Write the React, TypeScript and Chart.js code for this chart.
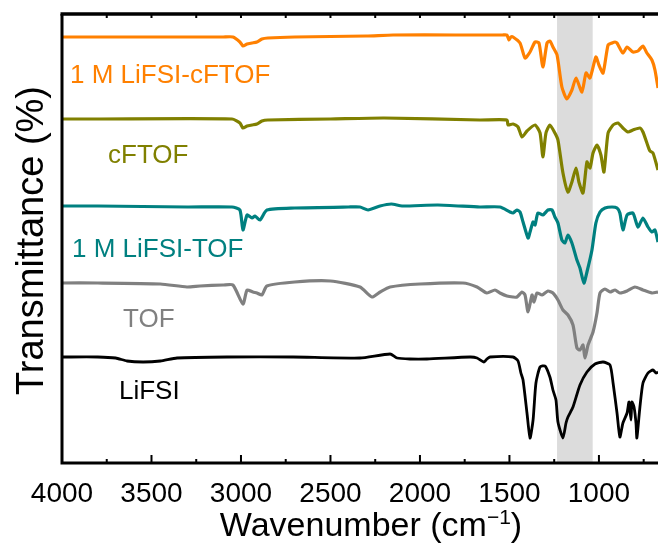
import { useEffect, useRef } from "react";
import { Chart, registerables } from "chart.js";

Chart.register(...registerables);

const FONT = "'Liberation Sans', Arial, Helvetica, sans-serif";

// ---- data (wavenumber in cm^-1, transmittance in arbitrary offset units) ----
const xMajorTicks = [4000, 3500, 3000, 2500, 2000, 1500, 1000];
const xAllTicks = [4000, 3750, 3500, 3250, 3000, 2750, 2500, 2250, 2000, 1750, 1500, 1250, 1000, 750];
const xRange = [670, 4000];
const yRange = [0, 449];
const bandRange = [1035, 1234];

const seriesNames = ["1 M LiFSI-cFTOF", "cFTOF", "1 M LiFSI-TOF", "TOF", "LiFSI"];
const seriesColors = ["#ff8000", "#808000", "#008080", "#808080", "#000000"];

const liCftofWn = [4000, 3800, 3100, 3045, 3006, 2989, 2966, 2938, 2911, 2883, 2850, 2700, 2300, 2150, 1800, 1665, 1540, 1514, 1503, 1492, 1480, 1441, 1413, 1385, 1357, 1335, 1313, 1290, 1274, 1257, 1234, 1207, 1179, 1151, 1128, 1095, 1072, 1050, 1017, 1000, 977, 949, 927, 910, 899, 866, 843, 810, 782, 754, 732, 704, 687, 670];
const liCftofT = [426, 426, 426, 426, 421, 417, 419, 420, 421, 424, 425, 426, 427, 428, 428, 428, 428, 428, 423, 426, 426, 420, 405, 411, 421, 420, 396, 420, 422, 416, 408, 376, 364, 373, 385, 371, 390, 385, 406, 398, 390, 418, 420, 421, 420, 410, 416, 411, 412, 417, 410, 403, 393, 375];

const cftofWn = [4000, 3800, 3050, 3006, 2989, 2966, 2938, 2911, 2883, 2850, 2500, 2200, 1665, 1514, 1508, 1480, 1452, 1430, 1402, 1357, 1329, 1313, 1296, 1274, 1246, 1229, 1201, 1173, 1151, 1128, 1112, 1089, 1067, 1050, 1033, 1011, 989, 972, 949, 921, 894, 866, 838, 810, 771, 754, 732, 715, 698, 670];
const cftofT = [344, 344, 344, 340, 335, 337, 338, 339, 342, 343, 344, 345, 343, 343, 338, 339, 336, 326, 332, 338, 330, 306, 330, 338, 330, 323, 290, 271, 281, 295, 281, 270, 301, 295, 310, 318, 308, 291, 330, 338, 340, 335, 331, 333, 335, 331, 320, 312, 310, 293];

const liTofWn = [4000, 3800, 3300, 3050, 3006, 2989, 2966, 2938, 2922, 2894, 2855, 2700, 2400, 2335, 2290, 2223, 2160, 2100, 1900, 1665, 1553, 1497, 1480, 1458, 1441, 1424, 1396, 1385, 1368, 1357, 1341, 1313, 1285, 1262, 1246, 1229, 1207, 1190, 1173, 1151, 1123, 1106, 1084, 1067, 1039, 1017, 994, 966, 927, 899, 883, 866, 843, 810, 782, 754, 726, 704, 687, 670];
const liTofT = [257, 257, 256, 256, 253, 233, 248, 245, 247, 243, 253, 255, 256, 256, 253, 257, 259, 257, 258, 256, 256, 251, 250, 253, 251, 241, 225, 231, 241, 238, 250, 248, 253, 253, 246, 240, 223, 220, 228, 220, 203, 195, 180, 191, 213, 240, 251, 255, 256, 255, 250, 233, 248, 250, 236, 245, 236, 231, 233, 221];

const tofWn = [4000, 3800, 3450, 3302, 3229, 3100, 3045, 2989, 2966, 2933, 2911, 2883, 2855, 2700, 2500, 2335, 2268, 2223, 2167, 2000, 1760, 1681, 1626, 1581, 1553, 1514, 1480, 1458, 1430, 1413, 1396, 1374, 1363, 1346, 1318, 1285, 1257, 1229, 1201, 1173, 1145, 1123, 1106, 1089, 1078, 1061, 1033, 1011, 994, 966, 938, 910, 883, 843, 799, 754, 704, 670];
const tofT = [180, 180, 179, 176, 177, 178, 178, 159, 173, 171, 170, 168, 177, 181, 182, 176, 166, 171, 176, 179, 180, 176, 170, 173, 170, 167, 166, 166, 171, 168, 151, 168, 161, 170, 168, 172, 170, 163, 153, 148, 138, 115, 113, 118, 105, 118, 131, 150, 170, 174, 171, 173, 170, 172, 176, 173, 170, 171];

const lifsiWn = [4000, 3800, 3700, 3637, 3547, 3450, 3357, 3078, 2709, 2335, 2167, 2128, 2056, 1961, 1720, 1681, 1642, 1626, 1609, 1480, 1452, 1436, 1424, 1402, 1385, 1368, 1352, 1329, 1301, 1274, 1257, 1240, 1229, 1201, 1184, 1173, 1145, 1106, 1067, 1022, 977, 938, 921, 899, 883, 866, 843, 832, 821, 816, 804, 793, 788, 771, 754, 726, 698, 681, 670];
const lifsiT = [106, 106, 105, 102, 101, 102, 105, 106, 106, 105, 109, 105, 104, 104, 106, 105, 101, 104, 106, 106, 102, 90, 83, 50, 25, 43, 80, 96, 97, 86, 73, 63, 41, 25, 40, 46, 56, 78, 91, 99, 101, 98, 80, 50, 26, 40, 50, 61, 43, 61, 56, 40, 25, 56, 80, 90, 93, 90, 91];

const seriesWn = [liCftofWn, cftofWn, liTofWn, tofWn, lifsiWn];
const seriesT = [liCftofT, cftofT, liTofT, tofT, lifsiT];

// label anchors: [wavenumber of left edge, transmittance of text baseline]
const labelAnchors = [
  [3955, 380],
  [3743, 300],
  [3944, 206],
  [3659, 136],
  [3682, 64],
];

const decorPlugin = {
  id: "decor",
  beforeDatasetsDraw(chart: any) {
    const { ctx, chartArea: a, scales } = chart;
    const x = scales.x;
    const p1 = x.getPixelForValue(bandRange[0]);
    const p2 = x.getPixelForValue(bandRange[1]);
    ctx.save();
    ctx.fillStyle = "#dcdcdc";
    ctx.fillRect(Math.min(p1, p2), a.top, Math.abs(p2 - p1), a.bottom - a.top);
    ctx.restore();
  },
  afterDatasetsDraw(chart: any) {
    const { ctx, chartArea: a, scales } = chart;
    const x = scales.x;
    const y = scales.y;
    ctx.save();
    // frame
    ctx.strokeStyle = "#000";
    ctx.lineWidth = 3;
    ctx.beginPath();
    ctx.moveTo(a.left, a.top);
    ctx.lineTo(a.left, a.bottom);
    ctx.lineTo(a.right + 2, a.bottom);
    ctx.stroke();
    ctx.lineWidth = 3.5;
    ctx.beginPath();
    ctx.moveTo(a.left - 1.5, a.top);
    ctx.lineTo(a.right + 2, a.top);
    ctx.stroke();
    // ticks
    ctx.lineWidth = 2;
    ctx.beginPath();
    for (const v of xAllTicks) {
      const px = x.getPixelForValue(v);
      if (px <= a.left + 2 || px > a.right) continue;
      const major = xMajorTicks.includes(v);
      ctx.moveTo(px, a.bottom);
      ctx.lineTo(px, a.bottom - (major ? 8 : 4));
      ctx.moveTo(px, a.top);
      ctx.lineTo(px, a.top + 4);
    }
    ctx.stroke();
    // series labels
    ctx.font = `26px ${FONT}`;
    ctx.textAlign = "left";
    ctx.textBaseline = "alphabetic";
    seriesNames.forEach((name, i) => {
      ctx.fillStyle = seriesColors[i];
      ctx.fillText(name, x.getPixelForValue(labelAnchors[i][0]), y.getPixelForValue(labelAnchors[i][1]));
    });
    ctx.restore();
  },
  afterDraw(chart: any) {
    const { ctx, chartArea: a } = chart;
    ctx.save();
    ctx.fillStyle = "#000";
    ctx.textBaseline = "alphabetic";
    ctx.textAlign = "left";
    // x title with superscript
    const main = "Wavenumber (cm";
    const sup = "\u22121";
    const close = ")";
    ctx.font = `34px ${FONT}`;
    const wMain = ctx.measureText(main).width;
    const wClose = ctx.measureText(close).width;
    ctx.font = `21px ${FONT}`;
    const wSup = ctx.measureText(sup).width;
    const total = wMain + wSup + wClose;
    const cx = (a.left + a.right) / 2 + 11;
    const base = a.bottom + 73;
    const sx = cx - total / 2;
    ctx.font = `34px ${FONT}`;
    ctx.fillText(main, sx, base);
    ctx.font = `21px ${FONT}`;
    ctx.fillText(sup, sx + wMain, base - 12);
    ctx.font = `34px ${FONT}`;
    ctx.fillText(close, sx + wMain + wSup, base);
    // y title
    ctx.translate(a.left - 19, (a.top + a.bottom) / 2 + 2);
    ctx.rotate(-Math.PI / 2);
    ctx.textAlign = "center";
    ctx.font = `38px ${FONT}`;
    ctx.fillText("Transmittance (%)", 0, 0);
    ctx.restore();
  },
};

export default function App() {
  const ref = useRef<HTMLCanvasElement | null>(null);
  useEffect(() => {
    if (!ref.current) return;
    const datasets = seriesNames.map((name, i) => ({
      label: name,
      data: seriesWn[i].map((w, j) => ({ x: w, y: seriesT[i][j] })),
      borderColor: seriesColors[i],
      backgroundColor: seriesColors[i],
      borderWidth: i === 4 ? 2.8 : 3.2,
      pointRadius: 0,
      tension: 0.2,
      fill: false,
    }));
    const chart = new Chart(ref.current, {
      type: "line",
      data: { datasets },
      plugins: [decorPlugin],
      options: {
        animation: false,
        responsive: false,
        devicePixelRatio: 1,
        parsing: true,
        layout: { padding: { left: 62, right: 0, top: 14, bottom: 0 } },
        plugins: { legend: { display: false }, tooltip: { enabled: false } },
        scales: {
          x: {
            type: "linear",
            reverse: true,
            min: xRange[0],
            max: xRange[1],
            grid: { display: false, drawTicks: false },
            border: { display: false },
            afterBuildTicks: (scale: any) => {
              scale.ticks = xMajorTicks.map((v) => ({ value: v }));
            },
            afterFit: (scale: any) => {
              scale.height = 81;
            },
            ticks: {
              autoSkip: false,
              maxRotation: 0,
              padding: 14,
              color: "#000",
              font: { family: FONT, size: 28 },
              callback: (v: any) => String(v),
            },
          },
          y: { display: false, min: yRange[0], max: yRange[1] },
        },
      } as any,
    });
    return () => chart.destroy();
  }, []);
  return (
    <div style={{ position: "fixed", left: 0, top: 0, width: 658, height: 544, background: "#fff" }}>
      <canvas ref={ref} width={658} height={544} style={{ display: "block" }} />
    </div>
  );
}
